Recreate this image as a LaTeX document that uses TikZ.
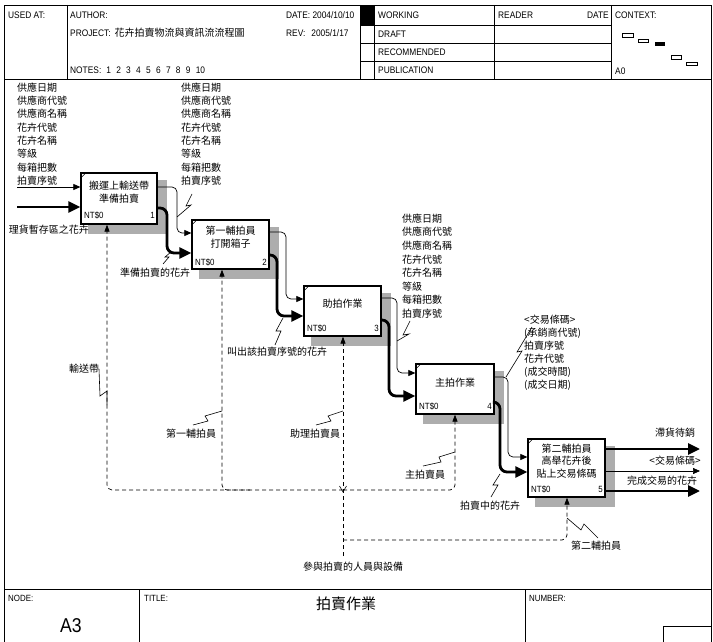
\documentclass[tikz,border=0pt]{standalone}
\usepackage{fontspec}
\setmainfont{Liberation Sans}
\newfontfamily\hfont[FakeStretch=0.88]{Liberation Sans}
\newfontfamily\cjk{Noto Sans CJK TC}
\usetikzlibrary{arrows.meta,patterns}
\begin{document}
\begin{tikzpicture}[x=1pt,y=-1pt,
  ln/.style={line width=0.8pt},
  hd/.style={font=\hfont\fontsize{9.5}{11}\selectfont, inner sep=0pt, anchor=west},
  sm/.style={font=\hfont\fontsize{9}{11}\selectfont, inner sep=0pt},
  cj/.style={font=\cjk\fontsize{10}{12.7}\selectfont, inner sep=0pt, align=center},
  blk/.style={font=\cjk\fontsize{10}{13.3}\selectfont, inner sep=0pt, align=left, anchor=north west},
  procbox/.style={draw, line width=1.3pt, fill=white, inner sep=0pt},
  shade/.style={fill=black!32},
  thinarr/.style={line width=0.7pt, rounded corners=5pt, -{Triangle[length=7pt,width=6pt]}},
  thickarr/.style={line width=2.8pt, rounded corners=7pt, -{Triangle[length=12pt,width=11pt]}},
  mecharr/.style={line width=0.7pt, dash pattern=on 4pt off 3pt, rounded corners=5pt, -{Triangle[length=7pt,width=5pt]}},
  sq/.style={line width=0.6pt},
  cmark/.style={line width=0.6pt},
]
\useasboundingbox (0,0) rectangle (713,642);
\fill[white] (0,0) rectangle (713,642);

% ---------- header ----------
\draw[ln] (4,5) rectangle (711,79);
\draw[ln] (67,5) -- (67,79);
\draw[ln] (360,5) -- (360,79);
\draw[ln] (374,5) -- (374,79);
\draw[ln] (494,5) -- (494,79);
\draw[ln] (611,5) -- (611,79);
\fill (360,5) rectangle (374,25);
\draw[ln] (360,25) -- (611,25);
\draw[ln] (360,43) -- (611,43);
\draw[ln] (360,61) -- (611,61);

\node[hd] (usedat) at (8,15) {USED AT:};
\node[hd] (author) at (70,15) {AUTHOR:};
\node[hd] (project) at (70,33) {PROJECT:\hspace{4pt}{\cjk\fontsize{10}{12}\selectfont 花卉拍賣物流與資訊流流程圖}};
\node[hd] (notes) at (70,70) {NOTES:\hspace{5pt}1\hspace{5.3pt}2\hspace{5.3pt}3\hspace{5.3pt}4\hspace{5.3pt}5\hspace{5.3pt}6\hspace{5.3pt}7\hspace{5.3pt}8\hspace{5.3pt}9\hspace{5.3pt}10};
\node[hd] (date) at (286,15) {DATE: 2004/10/10};
\node[hd] (rev) at (286,33) {REV:\hspace{6pt}2005/1/17};
\node[hd] (working) at (378,15) {WORKING};
\node[hd] (draft) at (378,34) {DRAFT};
\node[hd] (recomm) at (378,52) {RECOMMENDED};
\node[hd] (public) at (378,70) {PUBLICATION};
\node[hd] (reader) at (498,15) {READER};
\node[hd, anchor=east] (rdate) at (609,15) {DATE};
\node[hd] (context) at (615,15) {CONTEXT:};
\node[hd] (a0) at (615,71) {A0};
\draw[cmark] (622.5,33.5) rectangle (633,37);
\draw[cmark] (638,39) rectangle (648,42);
\fill (655,42) rectangle (665,46.5);
\draw[cmark] (671,55) rectangle (681,59.5);
\draw[cmark] (686.5,62) rectangle (697,65.5);

% ---------- side frame and footer ----------
\draw[ln] (4,79) -- (4,642);
\draw[ln] (711,79) -- (711,642);
\draw[ln] (4,589) -- (711,589);
\draw[ln] (139,589) -- (139,642);
\draw[ln] (525,589) -- (525,642);
\draw[ln] (663,642) -- (663,626) -- (711,626);
\node[sm, anchor=west] (nodelbl) at (8,598) {NODE:};
\node[sm, anchor=west] (titlelbl) at (144,598) {TITLE:};
\node[sm, anchor=west] (numlbl) at (529,598) {NUMBER:};
\node[inner sep=0pt, font=\hfont\fontsize{20}{22}\selectfont] (a3) at (71,626) {A3};
\node[inner sep=0pt, font=\cjk\fontsize{15}{17}\selectfont] (title) at (346,604) {拍賣作業};

% ---------- shadows ----------
\fill[shade] (88,180) rectangle (167,234);
\fill[shade] (199,227) rectangle (279,279);
\fill[shade] (311,293) rectangle (391,346);
\fill[shade] (423,371) rectangle (504,424);
\fill[shade] (535,446) rectangle (615,507);

% ---------- boxes ----------
\node[procbox, minimum width=76, minimum height=51] (b1) at (119,198.5) {};
\node[procbox, minimum width=77, minimum height=49] (b2) at (230.5,244.5) {};
\node[procbox, minimum width=77, minimum height=50] (b3) at (342.5,311) {};
\node[procbox, minimum width=78, minimum height=50] (b4) at (455,389) {};
\node[procbox, minimum width=77, minimum height=58] (b5) at (566.5,468) {};
\foreach \b in {b1,b2,b3,b4,b5}{
  \draw[cmark] (\b.north west) ++(0,6) -- ++(6,-6);
}

\node[cj] (b1t) at (119,192.5) {搬運上輸送帶\\準備拍賣};
\node[sm, anchor=west] (b1c) at (84,215) {NT\$0};
\node[sm, anchor=east] (b1k) at (155,215) {1};
\node[cj] (b2t) at (230.5,237) {第一輔拍員\\打開箱子};
\node[sm, anchor=west] (b2c) at (195,262) {NT\$0};
\node[sm, anchor=east] (b2k) at (267,262) {2};
\node[cj] (b3t) at (342.5,303.5) {助拍作業};
\node[sm, anchor=west] (b3c) at (307,328) {NT\$0};
\node[sm, anchor=east] (b3k) at (379,328) {3};
\node[cj] (b4t) at (455,383) {主拍作業};
\node[sm, anchor=west] (b4c) at (419,406) {NT\$0};
\node[sm, anchor=east] (b4k) at (492,406) {4};
\node[cj] (b5t) at (566.5,461) {第二輔拍員\\高舉花卉後\\貼上交易條碼};
\node[sm, anchor=west] (b5c) at (531,489) {NT\$0};
\node[sm, anchor=east] (b5k) at (603,489) {5};

% ---------- text blocks ----------
\node[blk] (blk1) at (17,82.5) {供應日期\\供應商代號\\供應商名稱\\花卉代號\\花卉名稱\\等級\\每箱把數\\拍賣序號};
\node[blk] (blk2) at (181,82.5) {供應日期\\供應商代號\\供應商名稱\\花卉代號\\花卉名稱\\等級\\每箱把數\\拍賣序號};
\node[blk, font=\cjk\fontsize{10}{13.6}\selectfont] (blk3) at (402,213.5) {供應日期\\供應商代號\\供應商名稱\\花卉代號\\花卉名稱\\等級\\每箱把數\\拍賣序號};
\node[blk, font=\cjk\fontsize{10}{13}\selectfont] (blk4) at (524,314.5) {<交易條碼>\\(承銷商代號)\\拍賣序號\\花卉代號\\(成交時間)\\(成交日期)};

% ---------- inputs / flows ----------
\coordinate (inC) at (17,187);
\coordinate (inI) at (17,207);
\draw[thinarr] (inC) -- (b1.west |- 0,187);
\draw[thickarr] (inI) -- (b1.west |- 0,207);
\node[cj] (lin) at (49,230) {理貨暫存區之花卉};

\draw[thinarr] (b1.east |- 0,187) -- (177,187) -- (177,233) -- (b2.west |- 0,233);
\draw[thickarr] (b1.east |- 0,208) -- (167,208) -- (167,253) -- (b2.west |- 0,253);
\draw[thinarr] (b2.east |- 0,232) -- (286,232) -- (286,299) -- (b3.west |- 0,299);
\draw[thickarr] (b2.east |- 0,255) -- (277,255) -- (277,316) -- (b3.west |- 0,316);
\draw[thinarr] (b3.east |- 0,298) -- (397,298) -- (397,373) -- (b4.west |- 0,373);
\draw[thickarr] (b3.east |- 0,320) -- (389,320) -- (389,396) -- (b4.west |- 0,396);
\draw[thinarr] (b4.east |- 0,377) -- (508,377) -- (508,457) -- (b5.west |- 0,457);
\draw[thickarr] (b4.east |- 0,402) -- (500,402) -- (500,472) -- (b5.west |- 0,472);

\coordinate (o1) at (700,449);
\coordinate (o2) at (700,471);
\coordinate (o3) at (700,491);
\draw[thickarr] (b5.east |- 0,449) -- (o1);
\draw[thinarr] (b5.east |- 0,471) -- (o2);
\draw[thickarr] (b5.east |- 0,491) -- (o3);
\node[cj] (lo1) at (675,433) {滯貨待銷};
\node[cj] (lo2) at (675,461) {<交易條碼>};
\node[cj] (lo3) at (662,480.5) {完成交易的花卉};

% ---------- mechanisms ----------
\coordinate (mbot) at (343,556);
\draw[mecharr] (mbot) -- (343,0 |- b3.south);
\draw[mecharr] (343,490) -- (107,490) -- (107,0 |- b1.south);
\draw[mecharr] (250,490) -- (222,490) -- (222,0 |- b2.south);
\draw[mecharr] (343,490) -- (455,490) -- (455,0 |- b4.south);
\draw[mecharr] (343,540) -- (567,540) -- (567,0 |- b5.south);
\draw[line width=0.6pt] (339.5,486) -- (343,492) -- (346.5,486);
\node[cj] (lmech) at (353,567) {參與拍賣的人員與設備};

% ---------- labels with squiggles ----------
\node[cj] (l12) at (155,273) {準備拍賣的花卉};
\draw[sq] (163,264) -- (169,257) -- (165,257) -- (171,252);
\node[cj] (l23) at (277,352) {叫出該拍賣序號的花卉};
\draw[sq] (275,345) -- (281,331) -- (276,331) -- (283,318);
\node[cj] (l45) at (490,506) {拍賣中的花卉};
\draw[sq] (491,497) -- (498,485) -- (493,485) -- (500,474);

\draw[sq] (192,194) -- (186,206) -- (191,205) -- (177,217);
\draw[sq] (410,321) -- (403,335) -- (409,334) -- (397,341);
\draw[sq] (532,327) -- (517,352) -- (522,351) -- (506,377);

\node[cj] (lm1) at (84,369) {輸送帶};
\draw[sq] (99,369) -- (100,396) -- (107,391) -- (107,405);
\node[cj] (lm2) at (191,434) {第一輔拍員};
\draw[sq] (193,425) -- (208,421) -- (205,416) -- (222,411);
\node[cj] (lm3) at (315,434) {助理拍賣員};
\draw[sq] (316,425) -- (331,421) -- (328,416) -- (343,411);
\node[cj] (lm4) at (425,475) {主拍賣員};
\draw[sq] (423,466) -- (441,462) -- (439,457) -- (455,452);
\node[cj] (lm5) at (596,546) {第二輔拍員};
\draw[sq] (567,518) -- (581,530) -- (584,524) -- (598,538);
\end{tikzpicture}
\end{document}
